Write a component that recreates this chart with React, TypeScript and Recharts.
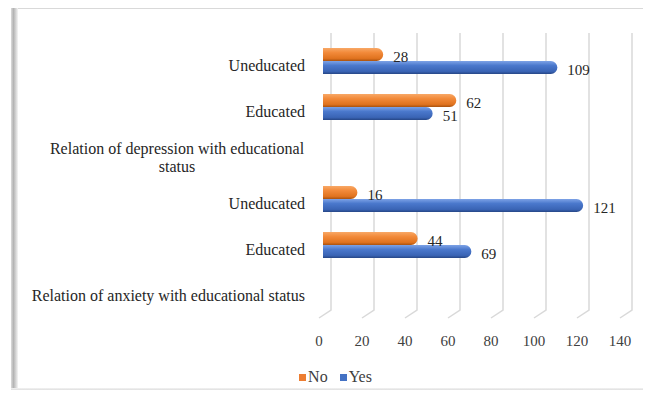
import React from 'react';
import { BarChart, Bar, XAxis, YAxis, CartesianGrid, Legend, LabelList } from 'recharts';

const categoryKeys = ['dep-unedu', 'dep-edu', 'dep-title', 'anx-unedu', 'anx-edu', 'anx-title'];
const categoryLabels = [
  'Uneducated',
  'Educated',
  'Relation of depression with educational\nstatus',
  'Uneducated',
  'Educated',
  'Relation of anxiety with educational status',
];
const noValues = [28, 62, null, 16, 44, null];
const yesValues = [109, 51, null, 121, 69, null];
const xTicks = [0, 20, 40, 60, 80, 100, 120, 140];

const NO_COLOR = '#ed7d31';
const YES_COLOR = '#4472c4';

const data = categoryKeys.map((key, i) => ({
  key,
  label: categoryLabels[i],
  No: noValues[i],
  Yes: yesValues[i],
}));

const FONT = '"Liberation Serif", "Times New Roman", serif';

const CategoryTick = ({ x, y, payload, index }: any) => {
  const text = categoryLabels[index] ?? payload.value;
  const lines = String(text).split('\n');
  const lineH = 18;
  const startY = y + 6 - ((lines.length - 1) * lineH) / 2;
  // wrapped labels are centred on their own longest line, like Excel does
  if (lines.length > 1) {
    return (
      <text style={{ fontFamily: FONT }} fontSize={16} fill="#262626" textAnchor="middle">
        {lines.map((l, i) => (
          <tspan key={i} x={x - 138} y={startY + i * lineH} dominantBaseline="middle">
            {l}
          </tspan>
        ))}
      </text>
    );
  }
  return (
    <text x={x - 10} y={startY} style={{ fontFamily: FONT }} fontSize={16} fill="#262626" textAnchor="end" dominantBaseline="middle">
      {lines[0]}
    </text>
  );
};

const ValueTick = ({ x, y, payload }: any) => (
  <text x={x - 4} y={y} style={{ fontFamily: FONT }} fontSize={15} fill="#404040" textAnchor="middle" dy="0.71em">
    {payload.value}
  </text>
);

const valueLabel = (props: any) => {
  const { x, y, width, height, value } = props;
  if (value == null) return null;
  return (
    <text
      x={x + width + 10}
      y={y + height / 2 + 4}
      style={{ fontFamily: FONT }}
      fontSize={15}
      fill="#262626"
      dominantBaseline="middle"
    >
      {value}
    </text>
  );
};

// grid lines drawn with a small slanted foot to hint at Excel's 3D floor
const gridLine = (props: any) => {
  const { x1, y1, y2, key } = props;
  return (
    <path
      key={key}
      d={`M${x1 + 8},${y1 - 5} L${x1 + 8},${y2 - 4} L${x1 - 4},${y2 + 4}`}
      stroke="#d9d9d9"
      strokeWidth={1.5}
      fill="none"
    />
  );
};

const legendColors: Record<string, string> = { No: NO_COLOR, Yes: YES_COLOR };

const LegendContent = ({ payload }: any) => (
  <div style={{ display: 'flex', justifyContent: 'center', fontFamily: FONT, fontSize: 16, color: '#404040' }}>
    {(payload || []).map((p: any) => (
      <span key={p.value} style={{ display: 'inline-flex', alignItems: 'center', marginRight: 12 }}>
        <span
          style={{ width: 7, height: 7, background: legendColors[p.value], marginRight: 2, display: 'inline-block' }}
        />
        {p.value}
      </span>
    ))}
  </div>
);

export default function App() {
  return (
    <div style={{ position: 'relative', width: 643, height: 382, background: '#fff' }}>
      <div style={{ position: 'absolute', left: 3, top: 0, width: 650, height: 1, background: '#d9d9d9' }} />
      <div
        style={{
          position: 'absolute',
          left: 3,
          top: 0,
          width: 7,
          height: 382,
          background: 'linear-gradient(to right, #dcdcdc, #b4b4b4 35%, #d6d6d6 70%, #f6f6f6)',
        }}
      />
      <div
        style={{
          position: 'absolute',
          left: 3,
          top: 380,
          width: 650,
          height: 8,
          background: 'linear-gradient(to bottom, #f2f2f2, #c4c4c4 60%, #a9a9a9)',
        }}
      />
      <div style={{ position: 'absolute', left: 0, top: 0 }}>
        <BarChart
          width={643}
          height={382}
          data={data}
          layout="vertical"
          margin={{ top: 30, right: 27, bottom: 46, left: 0 }}
          barGap={0}
          barSize={13}
        >
          <defs>
            <linearGradient id="gNo" x1="0" y1="0" x2="0" y2="1">
              <stop offset="0%" stopColor="#f8a866" />
              <stop offset="35%" stopColor="#f28a3a" />
              <stop offset="80%" stopColor="#e0731f" />
              <stop offset="100%" stopColor="#a9520f" />
            </linearGradient>
            <linearGradient id="gYes" x1="0" y1="0" x2="0" y2="1">
              <stop offset="0%" stopColor="#7da2e6" />
              <stop offset="35%" stopColor="#4a78cc" />
              <stop offset="80%" stopColor="#3a64b5" />
              <stop offset="100%" stopColor="#264686" />
            </linearGradient>
          </defs>
          <CartesianGrid horizontal={false} vertical={gridLine} />
          <XAxis
            type="number"
            domain={[0, 140]}
            ticks={xTicks}
            axisLine={false}
            tickLine={false}
            tickSize={19}
            tickMargin={2}
            tick={<ValueTick />}
          />
          <YAxis
            type="category"
            dataKey="key"
            width={315}
            axisLine={false}
            tickLine={false}
            interval={0}
            tick={<CategoryTick />}
          />
          <Legend
            layout="horizontal"
            verticalAlign="middle"
            align="center"
            wrapperStyle={{ top: 360, left: 12, width: 643 }}
            content={<LegendContent />}
          />
          <Bar dataKey="No" name="No" fill="url(#gNo)" radius={[0, 7, 7, 0]} isAnimationActive={false} legendType="square">
            <LabelList dataKey="No" content={valueLabel} />
          </Bar>
          <Bar dataKey="Yes" name="Yes" fill="url(#gYes)" radius={[0, 7, 7, 0]} isAnimationActive={false} legendType="square">
            <LabelList dataKey="Yes" content={valueLabel} />
          </Bar>
        </BarChart>
      </div>
    </div>
  );
}
